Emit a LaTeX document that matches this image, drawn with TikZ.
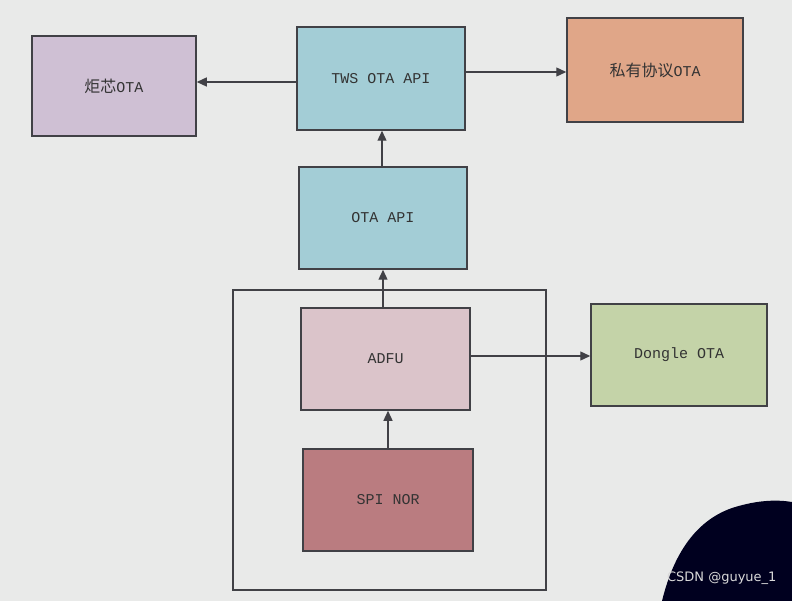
\documentclass[tikz,border=0pt]{standalone}
\usepackage{fontspec}
\setmonofont{Liberation Mono}
\setsansfont{DejaVu Sans}
\newfontfamily\cjk{Noto Sans CJK SC}
\usetikzlibrary{arrows.meta}
\definecolor{bgc}{RGB}{233,234,233}
\definecolor{lav}{RGB}{207,192,212}
\definecolor{lblue}{RGB}{163,205,214}
\definecolor{peach}{RGB}{224,166,136}
\definecolor{pinkc}{RGB}{219,196,202}
\definecolor{lgreen}{RGB}{196,211,168}
\definecolor{rosec}{RGB}{186,124,128}
\definecolor{edgec}{RGB}{65,65,70}
\begin{document}
\begin{tikzpicture}[x=1pt,y=-1pt,
  box/.style={draw=edgec,line width=1.5pt,minimum width=#1,inner sep=0pt,font=\ttfamily\fontsize{15}{17}\selectfont,text=black!80},
  arr/.style={draw=edgec,line width=1.3pt,-{Triangle[length=10pt,width=9pt]}}]
\fill[bgc] (0,0) rectangle (792,601);
\useasboundingbox (0,0) rectangle (792,601);
% container
\draw[draw=edgec,line width=1.2pt] (233,290) rectangle (546,590);
% boxes
\node[box=164pt,minimum height=100pt,fill=lav] (jx) at (114,86) {{\cjk\fontsize{16}{18}\selectfont 炬芯}OTA};
\node[box=168pt,minimum height=103pt,fill=lblue] (tws) at (381,78.5) {TWS OTA API};
\node[box=176pt,minimum height=104pt,fill=peach] (priv) at (655,70) {{\cjk\fontsize{16}{18}\selectfont 私有协议}OTA};
\node[box=168pt,minimum height=102pt,fill=lblue] (ota) at (383,218) {OTA API};
\node[box=169pt,minimum height=102pt,fill=pinkc] (adfu) at (385.5,359) {ADFU};
\node[box=176pt,minimum height=102pt,fill=lgreen] (dongle) at (679,355) {Dongle OTA};
\node[box=170pt,minimum height=102pt,fill=rosec] (spi) at (388,500) {SPI NOR};
% arrows
\draw[arr] (tws.west |- 0,82) -- (jx.east |- 0,82);
\draw[arr] (tws.east |- 0,72) -- (priv.west |- 0,72);
\draw[arr] (ota.north -| 382,0) -- (tws.south -| 382,0);
\draw[arr] (adfu.north -| 383,0) -- (ota.south -| 383,0);
\draw[arr] (adfu.east |- 0,356) -- (dongle.west |- 0,356);
\draw[arr] (spi.north -| 388,0) -- (adfu.south -| 388,0);
% photo artifact and watermark
\fill[black!88!blue] (662,601) .. controls (672,560) and (692,522) .. (732,508) .. controls (760,499) and (780,500) .. (792,502) -- (792,601) -- cycle;
\node[font=\sffamily\fontsize{13}{15}\selectfont,text=white!85!black,anchor=east] (wm) at (780,578) {CSDN @guyue\_1};
\end{tikzpicture}
\end{document}
